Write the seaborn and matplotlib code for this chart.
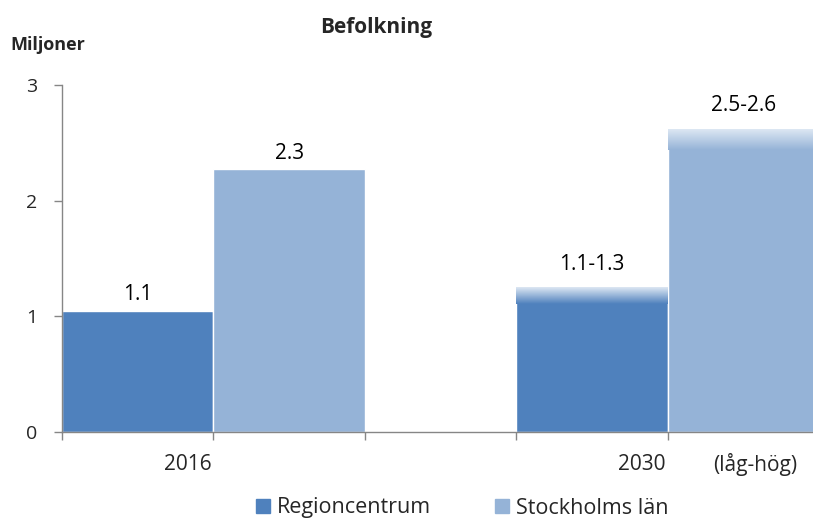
import matplotlib.pyplot as plt
import matplotlib.colors as mcolors
import seaborn as sns
import numpy as np
import pandas as pd

# chart data
series = ['Regioncentrum', 'Stockholms län']
years = ['2016', '2030']
low = [1.05, 2.27, 1.15, 2.48]     # solid part of bar
high = [1.05, 2.27, 1.25, 2.62]    # top of gradient (range high)
labels = ['1.1', '2.3', '1.1-1.3', '2.5-2.6']
slot = [0.5, 1.5, 3.5, 4.5]        # bar positions on the category axis
colors = {'Regioncentrum': '#4f81bd', 'Stockholms län': '#95b3d7'}

df = pd.DataFrame({
    'pos': slot,
    'serie': [series[0], series[1], series[0], series[1]],
    'low': low,
    'high': high,
    'label': labels,
})

sns.set_style('white')
plt.rcParams['font.family'] = ['Open Sans', 'DejaVu Sans']

fig = plt.figure(figsize=(8.13, 5.2), dpi=100)
ax = fig.add_axes([62 / 813, 88 / 520, 757 / 813, 347 / 520])

sns.barplot(data=df, x='pos', y='low', hue='serie', palette=colors,
            native_scale=True, width=1.0, dodge=False, saturation=1,
            legend=False, ax=ax)

# gradient caps for the range part (low -> high)
for _, r in df.iterrows():
    rng = r['high'] > r['low']
    if rng:
        base = mcolors.to_rgb(colors[r['serie']])
        light = mcolors.to_rgb('#dde7f3')
        t = np.linspace(0, 1, 64)[:, None]
        grad = np.array(base)[None, :] * (1 - t) + np.array(light)[None, :] * t
        grad = grad[:, None, :]
        ax.imshow(grad, extent=[r['pos'] - 0.5, r['pos'] + 0.5, r['low'] - 0.04, r['high']],
                  origin='lower', aspect='auto', zorder=3, interpolation='bilinear')
    off = 0.20 if rng else 0.14
    ax.text(r['pos'], r['high'] + off, r['label'], ha='center', va='center',
            fontsize=15, color='black')

ax.set_xlim(0, 5)
ax.set_ylim(0, 3)
ax.set_yticks([0, 1, 2, 3])
ax.set_yticklabels(['0', '1', '2', '3'], fontsize=14)
ax.set_xticks([0, 1, 2, 3, 4, 5])
ax.set_xticklabels([])
ax.set_xlabel('')
ax.set_ylabel('')
ax.tick_params(axis='both', which='both', direction='out', length=6, width=1,
               color='#868686', pad=12, left=True, bottom=True)

for side in ['top', 'right']:
    ax.spines[side].set_visible(False)
for side in ['left', 'bottom']:
    ax.spines[side].set_color('#868686')
    ax.spines[side].set_linewidth(1)

# category labels below the axis
ax.text(0.83, -0.28, years[0], ha='center', va='center', fontsize=15)
ax.text(3.83, -0.28, years[1], ha='center', va='center', fontsize=15)
ax.text(4.58, -0.28, '(låg-hög)', ha='center', va='center', fontsize=15)

fig.text(376 / 813, 1 - 27 / 520, 'Befolkning', ha='center', va='center',
         fontsize=15, fontweight='bold')
fig.text(10 / 813, 1 - 45 / 520, 'Miljoner', ha='left', va='center',
         fontsize=13, fontweight='bold')

# legend at the bottom
handles = [plt.Rectangle((0, 0), 1, 1, color=colors[s]) for s in series]
fig.legend(handles, series, loc='center', bbox_to_anchor=(462 / 813, 1 - 508 / 520),
           ncol=2, frameon=False, fontsize=15.5, handlelength=0.65, handleheight=0.65,
           handletextpad=0.3, columnspacing=3.0, borderpad=0)

fig.savefig('out.png', dpi=100)
